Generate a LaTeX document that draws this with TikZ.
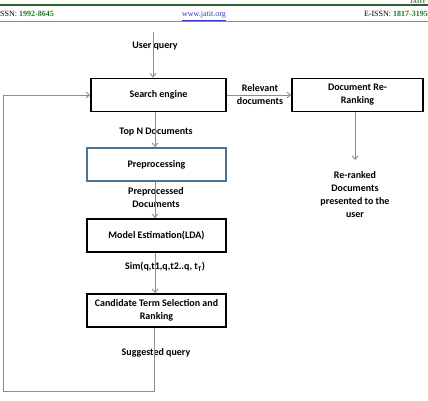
\documentclass[tikz,border=0pt]{standalone}
\usepackage{fontspec}
\setmainfont{Carlito}
\newfontfamily\hdr{Liberation Serif}
\usetikzlibrary{arrows.meta}
\definecolor{lgray}{HTML}{8C8C8C}
\definecolor{hgreen}{HTML}{1E7A1E}
\definecolor{hline}{HTML}{2F5F2F}
\definecolor{hblue}{HTML}{3535C8}
\definecolor{preblue}{HTML}{4A7398}
\begin{document}
\begin{tikzpicture}[x=1pt,y=-1pt,
  box/.style={draw=black, line width=1.8pt, minimum height=33pt, inner sep=0pt,
    font=\bfseries\fontsize{10}{12.8}\selectfont, align=center},
  lbl/.style={font=\bfseries\fontsize{10}{13}\selectfont, align=center, inner sep=0pt},
  hdrtext/.style={font=\hdr\fontsize{8}{9}\selectfont, inner sep=0pt},
  conn/.style={draw=lgray, line width=0.9pt, -{Straight Barb[length=3.5pt,width=6pt]}},
]
\useasboundingbox (0,0) rectangle (428,401);
% header
\draw[hline, line width=1.5pt] (0,5) -- (428,5);
\draw[lgray, line width=0.8pt] (0,21) -- (428,21);
\node[hdrtext, font=\hdr\bfseries\fontsize{5.5}{6}\selectfont, anchor=base east, text=hline] (jt) at (426,3.9) {JATIT};
\node[hdrtext, anchor=base west] (h1) at (0,17) {SSN: \textcolor{hgreen}{\textbf{1992-8645}}};
\node[hdrtext, anchor=base, text=hblue] (h2) at (204,17) {\underline{www.jatit.org}};
\node[hdrtext, anchor=base east] (h3) at (428,17) {E-ISSN: \textcolor{hgreen}{\textbf{1817-3195}}};
% boxes
\node[box, minimum width=135pt] (se) at (158.5,95) {Search engine};
\node[box, minimum width=131pt] (dr) at (357.5,95) {Document Re-\\Ranking};
\node[box, draw=preblue, minimum width=139pt] (pre) at (156.5,164.5) {Preprocessing};
\node[box, minimum width=139pt] (me) at (156.5,235.5) {Model Estimation(LDA)};
\node[box, minimum width=139pt] (cts) at (156.5,310.5) {Candidate Term Selection and\\Ranking};
% labels
\node[lbl] (uq) at (155,46) {User query};
\node[lbl] (rd) at (260,95) {Relevant\\documents};
\node[lbl] (tn) at (156,132) {Top N Documents};
\node[lbl] (pd) at (156,198) {Preprocessed\\Documents};
\node[lbl] (sim) at (165,267) {Sim(q,t1,q,t2..q, t\textsubscript{T})};
\node[lbl] (sq) at (156,353) {Suggested query};
\node[lbl] (rr) at (355,195) {Re-ranked\\Documents\\presented to the\\user};
% connectors
\coordinate (uqtop) at (153,32);
\coordinate (ax) at (155,0);
\coordinate (rx) at (355,160);
\coordinate (lb) at (154,391);
\coordinate (lt) at (3,95);
\draw[conn] (uqtop) -- (uqtop |- se.north);
\draw[conn] (se.east) -- (dr.west);
\draw[conn] (dr.south -| rx) -- (rx);
\draw[conn] (se.south -| ax) -- (pre.north -| ax);
\draw[conn] (pre.south -| ax) -- (me.north -| ax);
\draw[conn] (me.south -| ax) -- (cts.north -| ax);
\draw[conn] (cts.south -| lb) -- (lb) -| (lt) -- (se.west);
\end{tikzpicture}
\end{document}
